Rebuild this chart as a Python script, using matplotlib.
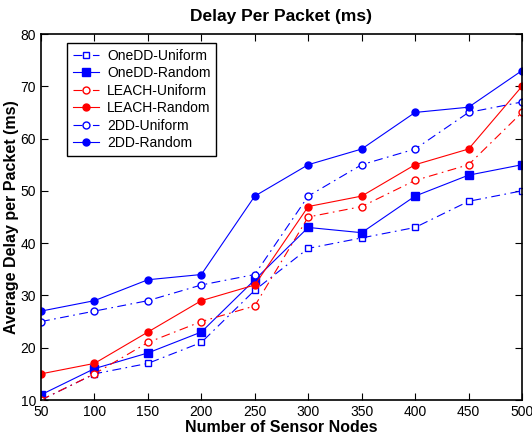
import matplotlib
matplotlib.use("Agg")
import matplotlib.pyplot as plt

plt.rcParams['font.family'] = ['Liberation Sans', 'DejaVu Sans']

nodes = [50, 100, 150, 200, 250, 300, 350, 400, 450, 500]
onedd_uniform = [10, 15, 17, 21, 31, 39, 41, 43, 48, 50]
onedd_random = [11, 16, 19, 23, 33, 43, 42, 49, 53, 55]
leach_uniform = [10, 15, 21, 25, 28, 45, 47, 52, 55, 65]
leach_random = [15, 17, 23, 29, 32, 47, 49, 55, 58, 70]
dd2_uniform = [25, 27, 29, 32, 34, 49, 55, 58, 65, 67]
dd2_random = [27, 29, 33, 34, 49, 55, 58, 65, 66, 73]

fig = plt.figure(figsize=(5.32, 4.46), dpi=100)
ax = fig.add_axes([41 / 532, 46 / 446, 481 / 532, 366 / 446])

dashdot = (0, (8, 4, 1.5, 4))
lw = 0.8
ax.plot(nodes, onedd_uniform, color='blue', ls=dashdot, lw=lw, marker='s', mfc='white', ms=5, label='OneDD-Uniform')
ax.plot(nodes, onedd_random, color='blue', ls='-', lw=lw, marker='s', mfc='blue', ms=6, label='OneDD-Random')
ax.plot(nodes, leach_uniform, color='red', ls=dashdot, lw=lw, marker='o', mfc='white', ms=5, label='LEACH-Uniform')
ax.plot(nodes, leach_random, color='red', ls='-', lw=lw, marker='o', mfc='red', ms=5, label='LEACH-Random')
ax.plot(nodes, dd2_uniform, color='blue', ls=dashdot, lw=lw, marker='o', mfc='white', ms=5, label='2DD-Uniform')
ax.plot(nodes, dd2_random, color='blue', ls='-', lw=lw, marker='o', mfc='blue', ms=5, label='2DD-Random')

ax.set_xlim(50, 500)
ax.set_ylim(10, 80)
ax.set_xticks(nodes)
ax.set_yticks(range(10, 81, 10))
ax.tick_params(direction='in', top=True, right=True, labelsize=10, length=5)
for s in ax.spines.values():
    s.set_linewidth(1.2)

ax.set_title('Delay Per Packet (ms)', fontsize=12.5, fontweight='bold', pad=9)
ax.set_xlabel('Number of Sensor Nodes', fontsize=11.5, fontweight='bold', labelpad=1)
ax.set_ylabel('Average Delay per Packet (ms)', fontsize=11.5, fontweight='bold', labelpad=1)

leg = ax.legend(loc='upper left', bbox_to_anchor=(0.054, 0.975), borderaxespad=0,
                fancybox=False, framealpha=1, edgecolor='black', fontsize=10,
                handlelength=1.9, labelspacing=0.25, borderpad=0.4, handletextpad=0.6)
leg.get_frame().set_linewidth(1.0)

plt.savefig('out.png', dpi=100)
